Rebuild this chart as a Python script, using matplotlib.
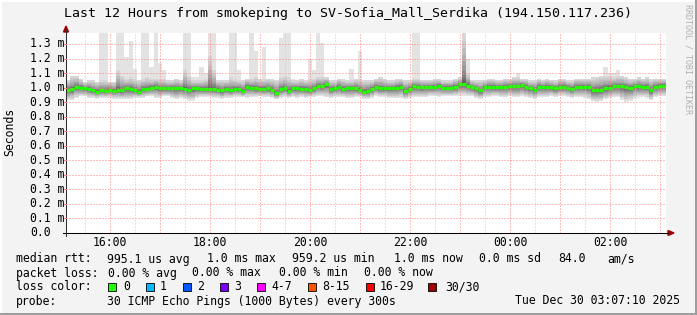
import numpy as np
import matplotlib
matplotlib.use("Agg")
import matplotlib.pyplot as plt
from matplotlib.patches import Rectangle, Polygon
from matplotlib.lines import Line2D
from matplotlib.transforms import Affine2D

# 5 minute steps from 15:07 to 03:07, values in ms
median = [0.986, 0.990, 1.005, 1.000, 0.995, 0.990, 0.981, 0.972, 0.981, 0.977, 0.986, 0.977,
          0.986, 0.981, 0.995, 0.990, 0.981, 0.972, 0.990, 0.990, 1.000, 1.005, 0.995, 0.995,
          0.995, 0.998, 0.995, 0.995, 0.993, 0.986, 0.995, 0.995, 0.990, 0.990, 0.990, 0.990,
          0.986, 0.981, 0.990, 0.981, 0.990, 0.990, 0.977, 1.005, 1.000, 0.995, 0.990, 0.990,
          0.995, 0.986, 0.962, 0.990, 0.995, 0.977, 0.995, 0.995, 0.990, 0.990, 0.981, 0.995,
          1.013, 1.009, 1.023, 0.990, 0.995, 1.005, 0.990, 0.995, 0.995, 0.995, 0.986, 0.972,
          0.975, 0.990, 1.005, 0.995, 0.995, 0.995, 0.995, 1.000, 1.005, 0.977, 0.990, 1.009,
          1.005, 1.002, 1.005, 1.005, 1.005, 1.013, 1.000, 1.000, 1.000, 1.005, 1.023, 1.023,
          1.013, 1.005, 0.995, 0.981, 1.005, 1.005, 1.005, 1.005, 1.005, 1.005, 1.009, 1.009,
          1.009, 1.018, 1.005, 0.995, 0.986, 1.005, 1.005, 1.005, 1.005, 0.995, 1.005, 1.005,
          1.000, 0.990, 1.005, 1.005, 1.005, 1.005, 0.981, 0.986, 0.986, 0.995, 1.000, 1.009,
          1.009, 1.009, 1.005, 1.000, 1.009, 1.009, 1.005, 1.005, 0.981, 1.005, 1.013, 1.013]

low = [0.915, 0.915, 0.930, 0.940, 0.940, 0.930, 0.930, 0.925, 0.930, 0.930, 0.930, 0.925,
       0.925, 0.920, 0.920, 0.920, 0.930, 0.930, 0.930, 0.940, 0.940, 0.930, 0.930, 0.940,
       0.940, 0.930, 0.920, 0.930, 0.920, 0.910, 0.910, 0.930, 0.935, 0.935, 0.935, 0.930,
       0.930, 0.920, 0.930, 0.930, 0.935, 0.935, 0.935, 0.930, 0.935, 0.935, 0.940, 0.935,
       0.935, 0.930, 0.920, 0.930, 0.935, 0.930, 0.935, 0.930, 0.935, 0.930, 0.935, 0.935,
       0.940, 0.940, 0.935, 0.930, 0.935, 0.935, 0.935, 0.930, 0.930, 0.935, 0.935, 0.925,
       0.920, 0.930, 0.940, 0.935, 0.935, 0.930, 0.930, 0.930, 0.930, 0.920, 0.930, 0.935,
       0.935, 0.935, 0.935, 0.940, 0.940, 0.935, 0.940, 0.940, 0.940, 0.940, 0.945, 0.945,
       0.940, 0.940, 0.930, 0.920, 0.935, 0.935, 0.940, 0.940, 0.935, 0.935, 0.940, 0.935,
       0.935, 0.940, 0.935, 0.930, 0.920, 0.935, 0.935, 0.935, 0.940, 0.935, 0.940, 0.940,
       0.935, 0.930, 0.935, 0.935, 0.930, 0.920, 0.905, 0.900, 0.905, 0.920, 0.930, 0.935,
       0.935, 0.915, 0.900, 0.910, 0.925, 0.930, 0.935, 0.930, 0.915, 0.935, 0.940, 0.940]

high = [1.05, 1.08, 1.08, 1.06, 1.04, 1.05, 1.05, 1.04, 1.05, 1.05, 1.04, 1.04,
        1.12, 1.08, 1.06, 1.07, 1.06, 1.05, 1.06, 1.07, 1.06, 1.06, 1.06, 1.06,
        1.05, 1.05, 1.06, 1.05, 1.12, 1.08, 1.05, 1.05, 1.05, 1.06, 1.22, 1.12,
        1.05, 1.05, 1.05, 1.07, 1.06, 1.05, 1.05, 1.06, 1.06, 1.07, 1.06, 1.06,
        1.06, 1.06, 1.05, 1.07, 1.08, 1.07, 1.05, 1.05, 1.06, 1.05, 1.06, 1.06,
        1.07, 1.07, 1.07, 1.05, 1.05, 1.06, 1.06, 1.05, 1.05, 1.06, 1.06, 1.05,
        1.05, 1.05, 1.06, 1.07, 1.06, 1.05, 1.05, 1.06, 1.06, 1.05, 1.05, 1.06,
        1.06, 1.05, 1.05, 1.05, 1.06, 1.06, 1.05, 1.05, 1.05, 1.06, 1.07, 1.38,
        1.10, 1.05, 1.05, 1.05, 1.05, 1.06, 1.06, 1.05, 1.05, 1.06, 1.06, 1.07,
        1.07, 1.06, 1.06, 1.05, 1.05, 1.06, 1.05, 1.06, 1.05, 1.05, 1.06, 1.06,
        1.05, 1.05, 1.06, 1.06, 1.06, 1.06, 1.07, 1.07, 1.08, 1.08, 1.08, 1.07,
        1.08, 1.08, 1.07, 1.06, 1.06, 1.07, 1.06, 1.07, 1.06, 1.06, 1.06, 1.06]

# single slow pings reaching above the main smoke
spike_step = [8, 9, 12, 13, 14, 15, 16, 18, 19, 20, 21, 22, 23, 28, 29, 30, 31, 32, 33, 34, 35,
              39, 40, 41, 44, 45, 47, 51, 52, 53, 54, 58, 59, 60, 61, 68, 70, 83, 84, 95, 96,
              108, 129, 130, 131, 132]
spike_top = [1.38, 1.38, 1.38, 1.38, 1.21, 1.32, 1.13, 1.38, 1.38, 1.14, 1.38, 1.17, 1.12, 1.38,
             1.38, 1.07, 1.07, 1.14, 1.10, 1.38, 1.38, 1.38, 1.38, 1.12, 1.38, 1.25, 1.28, 1.34,
             1.38, 1.38, 1.06, 1.20, 1.12, 1.38, 1.31, 1.13, 1.25, 1.38, 1.38, 1.38, 1.20, 1.10,
             1.14, 1.10, 1.10, 1.12]

y_ticks = [0.0, 0.1, 0.2, 0.3, 0.4, 0.5, 0.6, 0.7, 0.8, 0.9, 1.0, 1.1, 1.2, 1.3]
y_labels = ["0.0", "0.1 m", "0.2 m", "0.3 m", "0.4 m", "0.5 m", "0.6 m", "0.7 m",
            "0.8 m", "0.9 m", "1.0 m", "1.1 m", "1.2 m", "1.3 m"]
x_ticks = [16, 18, 20, 22, 24, 26]
x_labels = ["16:00", "18:00", "20:00", "22:00", "00:00", "02:00"]

loss_labels = ["0", "1", "2", "3", "4-7", "8-15", "16-29", "30/30"]
loss_colors = ["#26ff00", "#00b8ff", "#0059ff", "#7e00ff", "#ff00ff", "#ff5500", "#ff0000", "#a10000"]

W, H = 697, 315
mono = "DejaVu Sans Mono"
fig = plt.figure(figsize=(W / 100, H / 100), dpi=100, facecolor="#f3f3f3")
px = Affine2D().scale(1 / W, -1 / H).translate(0, 1) + fig.transFigure  # pixel coords, y down

ax = fig.add_axes([66 / W, (H - 233) / H, 600 / W, 200 / H])
ax.set_facecolor("white")
t0 = 15 + 7 / 60 + 10 / 3600
ax.set_xlim(t0, t0 + 12)
ax.set_ylim(0, 1.3755)
for s in ax.spines.values():
    s.set_visible(False)
ax.set_xticks([])
ax.set_yticks([])

# smoke: 30 pings per step, outer pairs light, inner pairs dark
med = np.array(median)
lo = np.array(low)
hi = np.array(high)
top = hi.copy()
top[spike_step] = spike_top
n = len(med)
edges = t0 + np.arange(n + 1) * 12 / n
pings = np.zeros((30, n))
for j in range(15):
    pings[j] = med - (med - lo) * ((14 - j) / 14) ** 1.6
for j in range(15, 29):
    pings[j] = med + (hi - med) * ((j - 15) / 13) ** 2.2
pings[29] = top
for k in range(15):
    g = int(190 / 15 * (14 - k)) + 50
    lower = np.append(pings[k], pings[k][-1])
    upper = np.append(pings[29 - k], pings[29 - k][-1])
    ax.fill_between(edges, lower, upper, step="post", color="#%02x%02x%02x" % (g, g, g),
                    lw=0, zorder=1)

# grid
for v in y_ticks[1:]:
    ax.axhline(v, color="#ff8080", lw=0.72, ls=(0, (1, 2)), zorder=3)
for h in np.arange(15.5, 27.2, 0.5):
    if t0 < h < t0 + 12:
        c = "#ff8080" if h == int(h) else "#c8c8c8"
        ax.axvline(h, color=c, lw=0.72, ls=(0, (1, 2)), zorder=3)

# median line
ax.hlines(med, edges[:-1], edges[1:], colors="#26ff00", lw=2.3, zorder=4, capstyle="butt")

# axes and arrows
fig.add_artist(Line2D([63, 668], [233, 233], color="black", lw=0.75, transform=px))
fig.add_artist(Line2D([66, 66], [236, 30], color="#303030", lw=0.75, transform=px))
fig.add_artist(Polygon([[66, 26], [63.5, 32], [68.5, 32]], closed=True, color="#a00000",
                       transform=px))
fig.add_artist(Polygon([[674, 233], [668, 230.5], [668, 235.5]], closed=True, color="#a00000",
                       transform=px))
for v in y_ticks[1:]:
    y = 233 - v / 1.3755 * 200
    fig.add_artist(Line2D([63, 66], [y, y], color="#ff8080", lw=0.72, transform=px))

# tick labels
for v, lab in zip(y_ticks, y_labels):
    y = 233 - v / 1.3755 * 200
    fig.text(30 / W, 1 - y / H, lab, family=mono, fontsize=8.3, ha="left", va="center")
for t, lab in zip(x_ticks, x_labels):
    x = 66 + (t - t0) / 12 * 600
    fig.text(x / W, 1 - 243 / H, lab, family=mono, fontsize=8.3, ha="center", va="center")

fig.text(10 / W, 1 - 132 / H, "Seconds", family=mono, fontsize=8.3, rotation=90,
         ha="center", va="center")
fig.text(347.5 / W, 1 - 14 / H,
         "Last 12 Hours from smokeping to SV-Sofia_Mall_Serdika (194.150.117.236)",
         family=mono, fontsize=9.5, ha="center", va="center")
fig.text(688 / W, 1 - 4 / H, "RRDTOOL / TOBI OETIKER", family=mono, fontsize=6,
         color="#b0b0b0", rotation=270, ha="center", va="top")

# legend block
def put(x, y, s, **kw):
    fig.text(x / W, 1 - y / H, s, family=mono, fontsize=8.3, va="center", **kw)

put(16, 259, "median rtt:")
for x, s in zip([107, 207, 292.5, 393.5, 479, 558, 607],
                ["995.1 us avg", "1.0 ms max", "959.2 us min", "1.0 ms now", "0.0 ms sd",
                 "84.0", "am/s"]):
    put(x, 259, s)
put(16, 273, "packet loss:")
for x, s in zip([107.5, 192.5, 279, 364.5],
                ["0.00 % avg", "0.00 % max", "0.00 % min", "0.00 % now"]):
    put(x, 273, s)
put(16, 287, "loss color:")
for bx, lx, lab, col in zip([108, 146, 183, 220, 257, 308, 366, 428],
                            [123, 160, 197, 234, 271, 322, 380, 445],
                            loss_labels, loss_colors):
    fig.add_artist(Rectangle((bx, 291), 8, -8, facecolor=col, edgecolor="black", lw=0.6,
                             transform=px))
    put(lx, 287, lab)
put(16, 301, "probe:")
put(107, 301, "30 ICMP Echo Pings (1000 Bytes) every 300s")
put(680, 301, "Tue Dec 30 03:07:10 2025", ha="right")

# 3d frame
fig.add_artist(Line2D([0, W], [0.5, 0.5], color="white", lw=1.4, transform=px))
fig.add_artist(Line2D([0.5, 0.5], [0, H], color="white", lw=1.4, transform=px))
fig.add_artist(Line2D([0, W], [H - 1, H - 1], color="#9c9c9c", lw=1.4, transform=px))
fig.add_artist(Line2D([W - 1, W - 1], [0, H], color="#9c9c9c", lw=1.4, transform=px))

fig.savefig("out.png", dpi=100, facecolor=fig.get_facecolor())
